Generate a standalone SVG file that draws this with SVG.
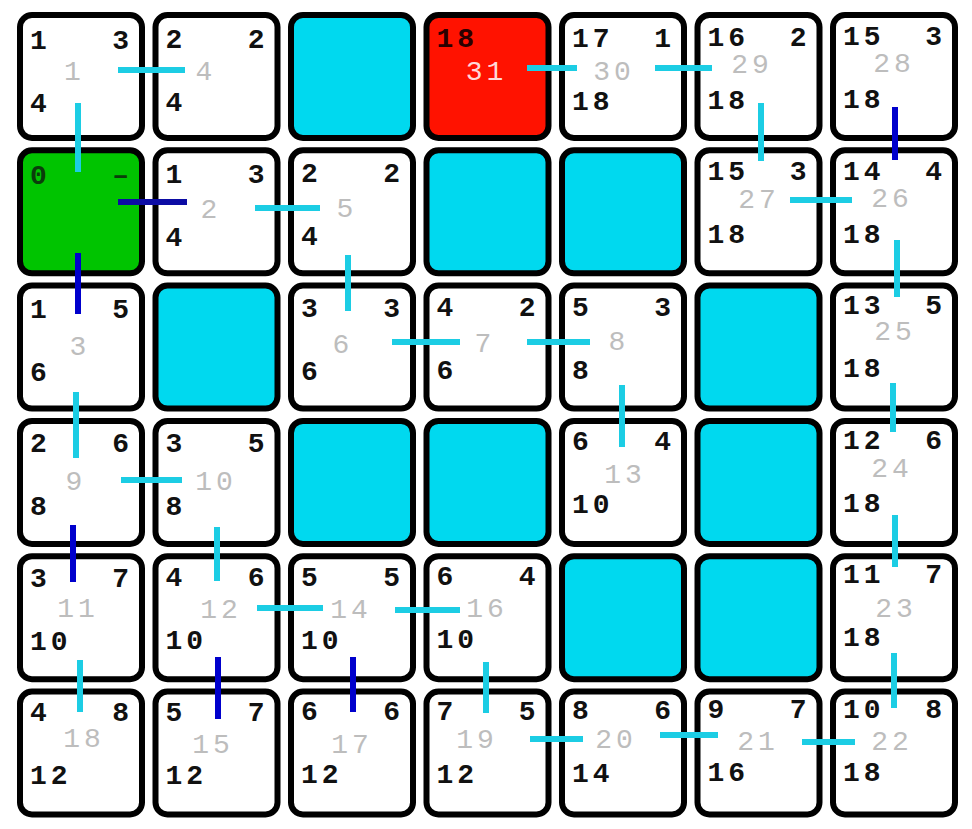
<svg xmlns="http://www.w3.org/2000/svg" width="972" height="829" viewBox="0 0 972 829">
<style>
.cell{stroke:#000;stroke-width:6}
.w{fill:#fff}
.c{fill:#00d9ef}
.gr{fill:#00c400}
.rd{fill:#ff1200}
text{font-family:"Liberation Mono","DejaVu Sans Mono",monospace;font-size:28px;letter-spacing:4px}
.k{fill:#111;font-weight:bold}
.ke{fill:#111;font-weight:bold;text-anchor:end}
.n{fill:#bdbdbd;text-anchor:middle}
.dk{fill:#2a0000;font-weight:bold}
.lt{fill:#ffd8d8;text-anchor:middle}
.dg{fill:#0b3d0b;font-weight:bold}
.dge{fill:#0b3d0b;font-weight:bold;text-anchor:end}
.e{stroke:#1ccde4;stroke-width:6}
.b{stroke:#0000cc;stroke-width:6}
.nv{stroke:#0c0ca4;stroke-width:6}
</style>
<rect width="972" height="829" fill="#fff"/>
<g id="cells">
<g id="cell-0-0"><rect class="cell w" x="20" y="15" width="122" height="123" rx="12"/><text class="k" x="30" y="49">1</text><text class="ke" x="133" y="49">3</text><text class="k" x="30" y="112">4</text><text class="n" x="74.5" y="80">1</text></g>
<g id="cell-0-1"><rect class="cell w" x="155.5" y="15" width="122" height="123" rx="12"/><text class="k" x="165.5" y="48">2</text><text class="ke" x="268.5" y="48">2</text><text class="k" x="165.5" y="111">4</text><text class="n" x="206" y="80">4</text></g>
<g id="cell-0-2"><rect class="cell c" x="291" y="15" width="122" height="123" rx="12"/></g>
<g id="cell-0-3"><rect class="cell rd" x="426.5" y="15" width="122" height="123" rx="12"/><text class="dk" x="436.5" y="47">18</text><text class="lt" x="486.5" y="80">31</text></g>
<g id="cell-0-4"><rect class="cell w" x="562" y="15" width="122" height="123" rx="12"/><text class="k" x="572" y="47">17</text><text class="ke" x="675" y="47">1</text><text class="k" x="572" y="110">18</text><text class="n" x="614" y="80">30</text></g>
<g id="cell-0-5"><rect class="cell w" x="697.5" y="15" width="122" height="123" rx="12"/><text class="k" x="707.5" y="46">16</text><text class="ke" x="810.5" y="46">2</text><text class="k" x="707.5" y="109">18</text><text class="n" x="752" y="73">29</text></g>
<g id="cell-0-6"><rect class="cell w" x="833" y="15" width="122" height="123" rx="12"/><text class="k" x="843" y="45">15</text><text class="ke" x="946" y="45">3</text><text class="k" x="843" y="108">18</text><text class="n" x="894" y="72">28</text></g>

<g id="cell-1-0"><rect class="cell gr" x="20" y="150.3" width="122" height="123" rx="12"/><text class="dg" x="30" y="184">0</text><text class="dge" x="133" y="184">–</text></g>
<g id="cell-1-1"><rect class="cell w" x="155.5" y="150.3" width="122" height="123" rx="12"/><text class="k" x="165.5" y="183">1</text><text class="ke" x="268.5" y="183">3</text><text class="k" x="165.5" y="246">4</text><text class="n" x="211" y="218">2</text></g>
<g id="cell-1-2"><rect class="cell w" x="291" y="150.3" width="122" height="123" rx="12"/><text class="k" x="301" y="182">2</text><text class="ke" x="404" y="182">2</text><text class="k" x="301" y="245">4</text><text class="n" x="347" y="217">5</text></g>
<g id="cell-1-3"><rect class="cell c" x="426.5" y="150.3" width="122" height="123" rx="12"/></g>
<g id="cell-1-4"><rect class="cell c" x="562" y="150.3" width="122" height="123" rx="12"/></g>
<g id="cell-1-5"><rect class="cell w" x="697.5" y="150.3" width="122" height="123" rx="12"/><text class="k" x="707.5" y="180">15</text><text class="ke" x="810.5" y="180">3</text><text class="k" x="707.5" y="243">18</text><text class="n" x="759" y="208">27</text></g>
<g id="cell-1-6"><rect class="cell w" x="833" y="150.3" width="122" height="123" rx="12"/><text class="k" x="843" y="180">14</text><text class="ke" x="946" y="180">4</text><text class="k" x="843" y="243">18</text><text class="n" x="892" y="207">26</text></g>

<g id="cell-2-0"><rect class="cell w" x="20" y="285.6" width="122" height="123" rx="12"/><text class="k" x="30" y="318">1</text><text class="ke" x="133" y="318">5</text><text class="k" x="30" y="381">6</text><text class="n" x="80" y="355">3</text></g>
<g id="cell-2-1"><rect class="cell c" x="155.5" y="285.6" width="122" height="123" rx="12"/></g>
<g id="cell-2-2"><rect class="cell w" x="291" y="285.6" width="122" height="123" rx="12"/><text class="k" x="301" y="317">3</text><text class="ke" x="404" y="317">3</text><text class="k" x="301" y="380">6</text><text class="n" x="343" y="353">6</text></g>
<g id="cell-2-3"><rect class="cell w" x="426.5" y="285.6" width="122" height="123" rx="12"/><text class="k" x="436.5" y="316">4</text><text class="ke" x="539.5" y="316">2</text><text class="k" x="436.5" y="379">6</text><text class="n" x="485" y="352">7</text></g>
<g id="cell-2-4"><rect class="cell w" x="562" y="285.6" width="122" height="123" rx="12"/><text class="k" x="572" y="316">5</text><text class="ke" x="675" y="316">3</text><text class="k" x="572" y="379">8</text><text class="n" x="619" y="350">8</text></g>
<g id="cell-2-5"><rect class="cell c" x="697.5" y="285.6" width="122" height="123" rx="12"/></g>
<g id="cell-2-6"><rect class="cell w" x="833" y="285.6" width="122" height="123" rx="12"/><text class="k" x="843" y="314">13</text><text class="ke" x="946" y="314">5</text><text class="k" x="843" y="377">18</text><text class="n" x="895" y="340">25</text></g>

<g id="cell-3-0"><rect class="cell w" x="20" y="420.9" width="122" height="123" rx="12"/><text class="k" x="30" y="452">2</text><text class="ke" x="133" y="452">6</text><text class="k" x="30" y="515">8</text><text class="n" x="76" y="490">9</text></g>
<g id="cell-3-1"><rect class="cell w" x="155.5" y="420.9" width="122" height="123" rx="12"/><text class="k" x="165.5" y="452">3</text><text class="ke" x="268.5" y="452">5</text><text class="k" x="165.5" y="515">8</text><text class="n" x="216" y="490">10</text></g>
<g id="cell-3-2"><rect class="cell c" x="291" y="420.9" width="122" height="123" rx="12"/></g>
<g id="cell-3-3"><rect class="cell c" x="426.5" y="420.9" width="122" height="123" rx="12"/></g>
<g id="cell-3-4"><rect class="cell w" x="562" y="420.9" width="122" height="123" rx="12"/><text class="k" x="572" y="450">6</text><text class="ke" x="675" y="450">4</text><text class="k" x="572" y="513">10</text><text class="n" x="625" y="483">13</text></g>
<g id="cell-3-5"><rect class="cell c" x="697.5" y="420.9" width="122" height="123" rx="12"/></g>
<g id="cell-3-6"><rect class="cell w" x="833" y="420.9" width="122" height="123" rx="12"/><text class="k" x="843" y="449">12</text><text class="ke" x="946" y="449">6</text><text class="k" x="843" y="512">18</text><text class="n" x="892" y="477">24</text></g>

<g id="cell-4-0"><rect class="cell w" x="20" y="556.2" width="122" height="123" rx="12"/><text class="k" x="30" y="587">3</text><text class="ke" x="133" y="587">7</text><text class="k" x="30" y="650">10</text><text class="n" x="78" y="617">11</text></g>
<g id="cell-4-1"><rect class="cell w" x="155.5" y="556.2" width="122" height="123" rx="12"/><text class="k" x="165.5" y="586">4</text><text class="ke" x="268.5" y="586">6</text><text class="k" x="165.5" y="649">10</text><text class="n" x="221" y="618">12</text></g>
<g id="cell-4-2"><rect class="cell w" x="291" y="556.2" width="122" height="123" rx="12"/><text class="k" x="301" y="586">5</text><text class="ke" x="404" y="586">5</text><text class="k" x="301" y="649">10</text><text class="n" x="351" y="618">14</text></g>
<g id="cell-4-3"><rect class="cell w" x="426.5" y="556.2" width="122" height="123" rx="12"/><text class="k" x="436.5" y="585">6</text><text class="ke" x="539.5" y="585">4</text><text class="k" x="436.5" y="648">10</text><text class="n" x="487" y="617">16</text></g>
<g id="cell-4-4"><rect class="cell c" x="562" y="556.2" width="122" height="123" rx="12"/></g>
<g id="cell-4-5"><rect class="cell c" x="697.5" y="556.2" width="122" height="123" rx="12"/></g>
<g id="cell-4-6"><rect class="cell w" x="833" y="556.2" width="122" height="123" rx="12"/><text class="k" x="843" y="583">11</text><text class="ke" x="946" y="583">7</text><text class="k" x="843" y="646">18</text><text class="n" x="896" y="617">23</text></g>

<g id="cell-5-0"><rect class="cell w" x="20" y="691.5" width="122" height="123" rx="12"/><text class="k" x="30" y="721">4</text><text class="ke" x="133" y="721">8</text><text class="k" x="30" y="784">12</text><text class="n" x="84" y="747">18</text></g>
<g id="cell-5-1"><rect class="cell w" x="155.5" y="691.5" width="122" height="123" rx="12"/><text class="k" x="165.5" y="721">5</text><text class="ke" x="268.5" y="721">7</text><text class="k" x="165.5" y="784">12</text><text class="n" x="213" y="753">15</text></g>
<g id="cell-5-2"><rect class="cell w" x="291" y="691.5" width="122" height="123" rx="12"/><text class="k" x="301" y="720">6</text><text class="ke" x="404" y="720">6</text><text class="k" x="301" y="783">12</text><text class="n" x="352" y="753">17</text></g>
<g id="cell-5-3"><rect class="cell w" x="426.5" y="691.5" width="122" height="123" rx="12"/><text class="k" x="436.5" y="720">7</text><text class="ke" x="539.5" y="720">5</text><text class="k" x="436.5" y="783">12</text><text class="n" x="477" y="748">19</text></g>
<g id="cell-5-4"><rect class="cell w" x="562" y="691.5" width="122" height="123" rx="12"/><text class="k" x="572" y="719">8</text><text class="ke" x="675" y="719">6</text><text class="k" x="572" y="782">14</text><text class="n" x="616" y="748">20</text></g>
<g id="cell-5-5"><rect class="cell w" x="697.5" y="691.5" width="122" height="123" rx="12"/><text class="k" x="707.5" y="718">9</text><text class="ke" x="810.5" y="718">7</text><text class="k" x="707.5" y="781">16</text><text class="n" x="758" y="750">21</text></g>
<g id="cell-5-6"><rect class="cell w" x="833" y="691.5" width="122" height="123" rx="12"/><text class="k" x="843" y="718">10</text><text class="ke" x="946" y="718">8</text><text class="k" x="843" y="781">18</text><text class="n" x="892" y="750">22</text></g>
</g>
<g id="connectors">
<line class="e" x1="118" y1="70" x2="185" y2="70"/>
<line class="e" x1="255" y1="208" x2="320" y2="208"/>
<line class="e" x1="527" y1="68" x2="577" y2="68"/>
<line class="e" x1="655" y1="68" x2="712" y2="68"/>
<line class="e" x1="790" y1="200" x2="852" y2="200"/>
<line class="e" x1="392" y1="342" x2="460" y2="342"/>
<line class="e" x1="527" y1="342" x2="590" y2="342"/>
<line class="e" x1="121" y1="480" x2="182" y2="480"/>
<line class="e" x1="257" y1="608" x2="323" y2="608"/>
<line class="e" x1="395" y1="610" x2="460" y2="610"/>
<line class="e" x1="530" y1="739" x2="583" y2="739"/>
<line class="e" x1="660" y1="735" x2="718" y2="735"/>
<line class="e" x1="802" y1="742" x2="855" y2="742"/>
<line class="e" x1="78" y1="103" x2="78" y2="172"/>
<line class="e" x1="348" y1="255" x2="348" y2="311"/>
<line class="e" x1="761" y1="103" x2="761" y2="161"/>
<line class="e" x1="897" y1="240" x2="897" y2="297"/>
<line class="e" x1="76" y1="392" x2="76" y2="458"/>
<line class="e" x1="622" y1="385" x2="622" y2="447"/>
<line class="e" x1="893" y1="383" x2="893" y2="432"/>
<line class="e" x1="217" y1="527" x2="217" y2="581"/>
<line class="e" x1="895" y1="515" x2="895" y2="567"/>
<line class="e" x1="80" y1="660" x2="80" y2="712"/>
<line class="e" x1="486" y1="662" x2="486" y2="713"/>
<line class="e" x1="894" y1="653" x2="894" y2="708"/>
<line class="nv" x1="118" y1="202" x2="187" y2="202"/>
<line class="b" x1="78" y1="253" x2="78" y2="314"/>
<line class="b" x1="895" y1="107" x2="895" y2="160"/>
<line class="b" x1="73" y1="525" x2="73" y2="582"/>
<line class="b" x1="218" y1="657" x2="218" y2="719"/>
<line class="b" x1="353" y1="657" x2="353" y2="712"/>
</g>
</svg>
